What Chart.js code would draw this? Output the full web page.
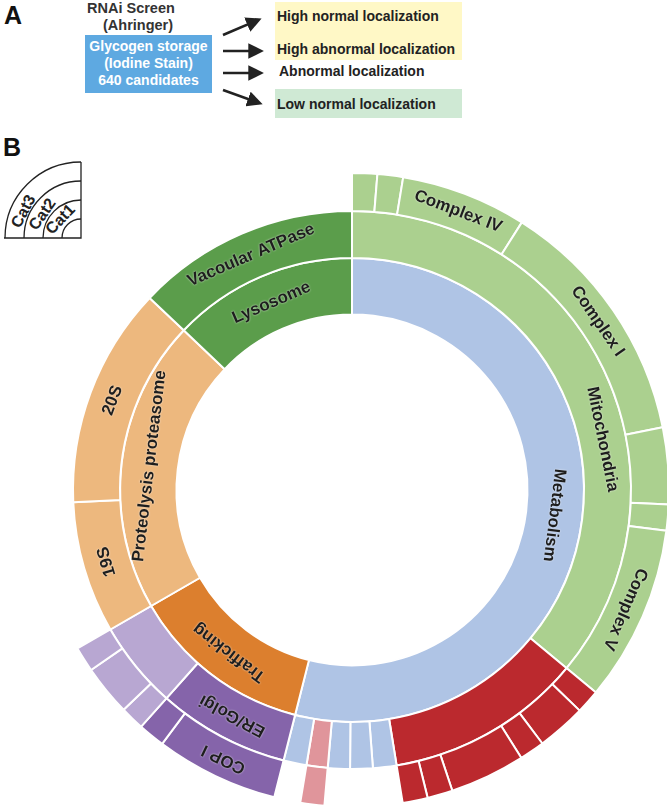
<!DOCTYPE html>
<html>
<head>
<meta charset="utf-8">
<script src="https://cdn.jsdelivr.net/npm/chart.js@4"></script>
<style>
  html, body { margin: 0; padding: 0; background: #fff; }
  body { width: 667px; height: 810px; overflow: hidden; position: relative; font-family: "Liberation Sans", Arial, sans-serif; }
  .t { position: absolute; font-weight: bold; color: #222; white-space: nowrap; }
  .panel { position: absolute; font-weight: bold; font-size: 25px; color: #111; }
  #chartBox { position: absolute; left: 32px; top: 170px; width: 640px; height: 640px; }
  .key { font-family: "Liberation Sans", Arial, sans-serif; font-weight: bold; font-size: 16px; }
</style>
</head>
<body>

<!-- panel A -->
<div class="panel" style="left:4px; top:1px;">A</div>
<div class="t" style="left:87px; top:0px; font-size:14.5px; color:#333;">RNAi Screen</div>
<div class="t" style="left:103px; top:17px; font-size:14.5px; color:#333;">(Ahringer)</div>
<div style="position:absolute; left:85px; top:35px; width:127px; height:58px; background:#5EA9E1;"></div>
<div class="t" style="left:85px; top:38px; width:127px; text-align:center; font-size:14px; line-height:17px; color:#fff;">Glycogen storage<br>(Iodine Stain)<br>640 candidates</div>

<div style="position:absolute; left:275px; top:2px; width:187px; height:58px; background:#FFF8C6;"></div>
<div style="position:absolute; left:275px; top:89px; width:187px; height:29px; background:#CFE9D4;"></div>
<div class="t" style="left:277px; top:8px; font-size:14px;">High normal localization</div>
<div class="t" style="left:277px; top:41px; font-size:14px;">High abnormal localization</div>
<div class="t" style="left:279px; top:63px; font-size:14px;">Abnormal localization</div>
<div class="t" style="left:277px; top:96px; font-size:14px;">Low normal localization</div>

<svg style="position:absolute; left:0; top:0;" width="667" height="130">
  <defs>
    <marker id="ah" markerWidth="6" markerHeight="6" refX="4.5" refY="3" orient="auto" markerUnits="strokeWidth">
      <path d="M0,0 L6,3 L0,6 z" fill="#222"/>
    </marker>
  </defs>
  <g stroke="#222" stroke-width="2.6" marker-end="url(#ah)">
    <line x1="223" y1="35" x2="258" y2="20"/>
    <line x1="223" y1="51" x2="260" y2="51"/>
    <line x1="223" y1="73" x2="260" y2="73"/>
    <line x1="223" y1="90" x2="259" y2="103"/>
  </g>
</svg>

<!-- panel B -->
<div class="panel" style="left:3px; top:133px;">B</div>
<svg style="position:absolute; left:0; top:150px;" width="100" height="100">
  <g fill="none" stroke="#222" stroke-width="1.3">
    <path d="M81,12 L81,88 L4,88"/>
    <path d="M81,12 A76,76 0 0 0 5,88"/>
    <path d="M81,31 A57,57 0 0 0 24,88"/>
    <path d="M81,50 A38,38 0 0 0 43,88"/>
    <path d="M81,69 A19,19 0 0 0 62,88"/>
  </g>
  <g class="key" fill="#222" text-anchor="middle" dominant-baseline="central">
    <text transform="translate(23,61) rotate(-62)">Cat3</text>
    <text transform="translate(42,64) rotate(-55)">Cat2</text>
    <text transform="translate(60,69) rotate(-46)">Cat1</text>
  </g>
</svg>

<div id="chartBox"><canvas id="sunburst" width="640" height="640"></canvas></div>

<script>
// ring 1 (inner), values as share of the circle (degrees)
const cat1Labels = ['Metabolism', 'Trafficking', 'Proteolysis proteasome', 'Lysosome'];
const cat1Values = [194.2, 45.8, 73.5, 46.5];
const cat1Groups = ['met', 'traf', 'prot', 'lyso'];

// ring 2 (middle)
const cat2Labels = ['Mitochondria', '', '', '', '', '', '', 'ER/Golgi', '', '19S', '20S', 'Vacoular ATPase'];
const cat2Values = [129.7, 41.1, 4.9, 4.7, 4.6, 4.4, 4.8, 27.5, 18.3, 27.5, 46.0, 46.5];
const cat2Groups = ['mito', 'red', 'met', 'met', 'met', 'pink', 'met', 'er', 'ltpur', 'prot', 'prot', 'lyso'];

// ring 3 (outer), 'none' = no subcategory
const cat3Labels = ['', '', 'Complex IV', 'Complex I', '', '', 'Complex V', '', '', '', '', '', '', '', '', '', 'COP I', '', '', '', '', ''];
const cat3Values = [4.6, 4.7, 23.1, 46.2, 14.0, 4.8, 32.3, 4.4, 9.0, 4.6, 13.85, 4.65, 4.6, 14.2, 4.4, 4.8, 22.6, 4.9, 4.4, 9.3, 4.6, 120];
const cat3Groups = ['mito', 'mito', 'mito', 'mito', 'mito', 'mito', 'mito',
  'red', 'red', 'red', 'red', 'red', 'red', 'none', 'pink', 'none',
  'er', 'er', 'ltpur', 'ltpur', 'ltpur', 'none'];

const groupColors = {
  met: '#AFC4E5',
  mito: '#ABD08F',
  red: '#BB292E',
  pink: '#E0959B',
  traf: '#DC7F2E',
  er: '#8564AA',
  ltpur: '#B8A7D2',
  prot: '#EDB87E',
  lyso: '#5B9D4B',
  none: 'rgba(0,0,0,0)'
};

function ring(values, groups, labels, weight) {
  return {
    data: values,
    labels: labels,
    weight: weight,
    backgroundColor: groups.map(g => groupColors[g]),
    borderColor: '#ffffff',
    borderWidth: groups.map(g => g === 'none' ? 0 : 2)
  };
}

// writes the names along each arc
const arcLabels = {
  id: 'arcLabels',
  afterDatasetsDraw(chart, args, opts) {
    const ctx = chart.ctx;
    ctx.save();
    ctx.font = 'bold 17px "Liberation Sans", Arial, sans-serif';
    ctx.textAlign = 'center';
    ctx.textBaseline = 'middle';
    chart.data.datasets.forEach((ds, di) => {
      const meta = chart.getDatasetMeta(di);
      meta.data.forEach((arc, i) => {
        const txt = ds.labels[i];
        if (!txt) return;
        const p = arc.getProps(['x', 'y', 'startAngle', 'endAngle', 'innerRadius', 'outerRadius'], true);
        let a = (p.startAngle + p.endAngle) / 2;
        a += ((opts.shift && opts.shift[txt]) || 0) * Math.PI / 180;
        const r = (p.innerRadius + p.outerRadius) / 2;
        ctx.save();
        ctx.translate(p.x + r * Math.cos(a), p.y + r * Math.sin(a));
        ctx.rotate(a + Math.PI / 2);
        ctx.shadowColor = 'rgba(255,255,255,0.8)';
        ctx.shadowBlur = 2;
        ctx.fillStyle = '#1e1e1e';
        ctx.fillText(txt, 0, 0);
        ctx.restore();
      });
    });
    ctx.restore();
  }
};

new Chart(document.getElementById('sunburst').getContext('2d'), {
  type: 'doughnut',
  data: {
    labels: cat3Labels,
    datasets: [
      ring(cat3Values, cat3Groups, cat3Labels, 38),
      ring(cat2Values, cat2Groups, cat2Labels, 47),
      ring(cat1Values, cat1Groups, cat1Labels, 56.5)
    ]
  },
  options: {
    responsive: false,
    animation: false,
    devicePixelRatio: 1,
    radius: 317,
    cutout: '55.36%',
    rotation: 0,
    layout: { padding: 0 },
    events: [],
    plugins: {
      legend: { display: false },
      tooltip: { enabled: false },
      arcLabels: { shift: { 'Mitochondria': 13.7 } }
    }
  },
  plugins: [arcLabels]
});
</script>
</body>
</html>
